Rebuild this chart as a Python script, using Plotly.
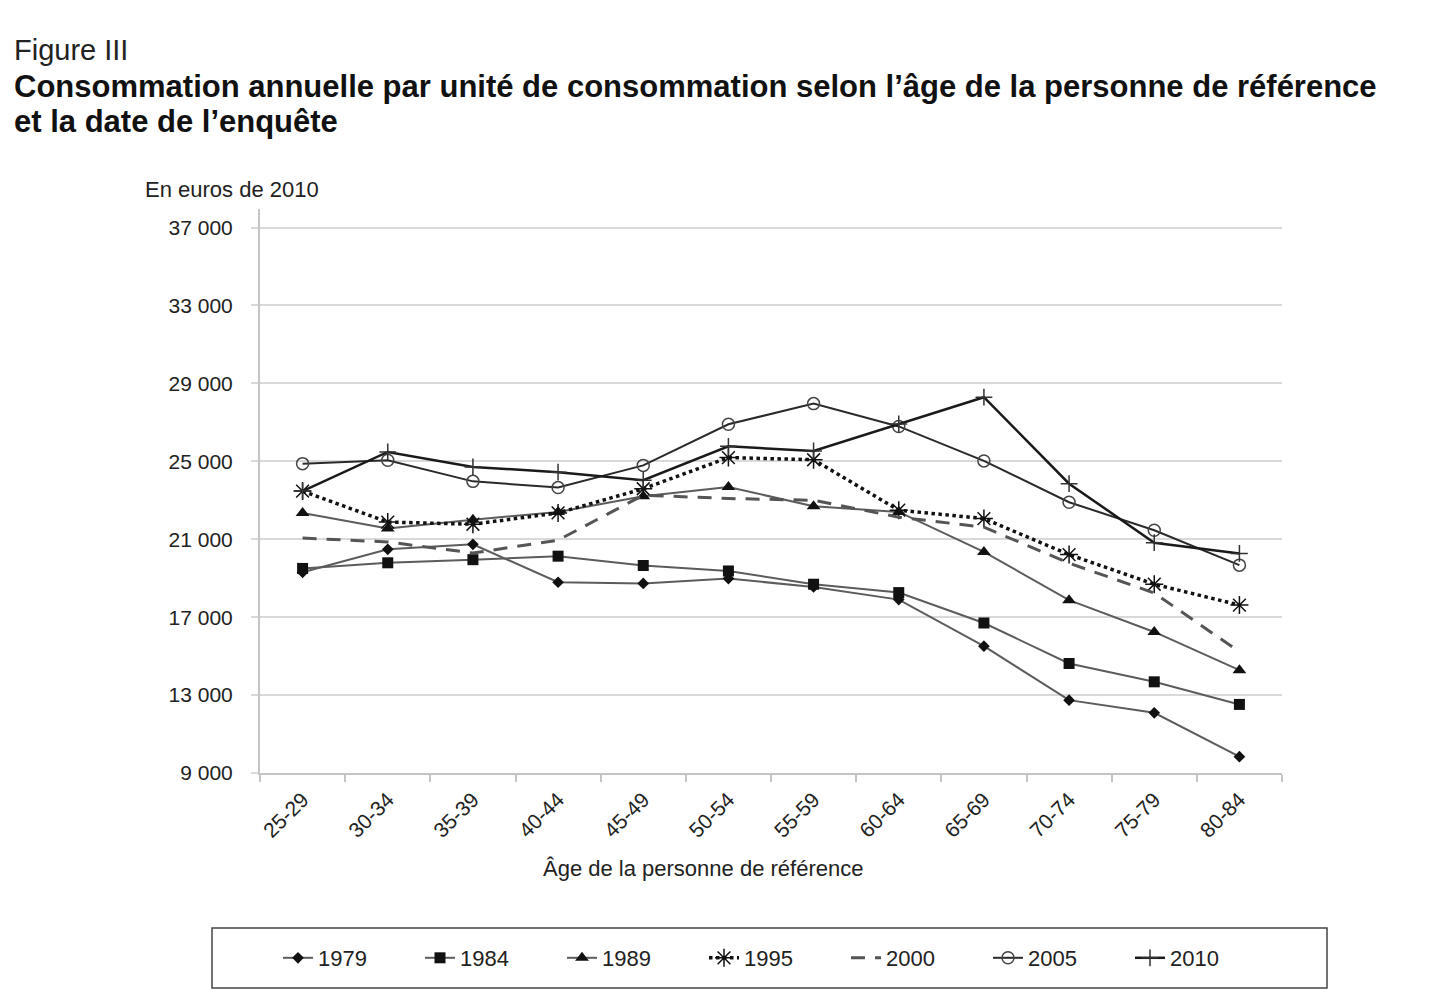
import plotly.graph_objects as go

ages = ["25-29", "30-34", "35-39", "40-44", "45-49", "50-54",
        "55-59", "60-64", "65-69", "70-74", "75-79", "80-84"]

c1979 = [19300, 20480, 20740, 18790, 18730, 18980, 18550, 17900, 15510, 12740, 12090, 9840]
c1984 = [19500, 19790, 19950, 20130, 19650, 19370, 18690, 18260, 16700, 14620, 13680, 12520]
c1989 = [22350, 21550, 22000, 22400, 23200, 23680, 22690, 22400, 20350, 17870, 16240, 14280]
c1995 = [23470, 21880, 21770, 22350, 23590, 25190, 25080, 22490, 22060, 20210, 18690, 17620]
c2000 = [21060, 20860, 20290, 20950, 23260, 23090, 23000, 22130, 21620, 19770, 18240, 15220]
c2005 = [24880, 25050, 23970, 23650, 24790, 26900, 27960, 26790, 25020, 22900, 21460, 19670]
c2010 = [23470, 25480, 24710, 24440, 24030, 25770, 25530, 26920, 28290, 23850, 20820, 20270]

y_ticks = [9000, 13000, 17000, 21000, 25000, 29000, 33000, 37000]
y_labels = ["9 000", "13 000", "17 000", "21 000", "25 000", "29 000", "33 000", "37 000"]

W, H = 1444, 1003
OFF = 8  # page body margin
# plot area in page pixels
L, R, T, B = 260 - OFF, 1282 - OFF, 209 - OFF, 773 - OFF


def px(x, y):
    # page pixel -> paper coords
    return (x - OFF - L) / (R - L), (B - (y - OFF)) / (B - T)


fig = go.Figure()

styles = [
    ("1979", c1979, dict(color="#5c5c5c", width=2), dict(symbol="diamond", size=9, color="#111")),
    ("1984", c1984, dict(color="#5c5c5c", width=2), dict(symbol="square", size=11, color="#111")),
    ("1989", c1989, dict(color="#5c5c5c", width=2), dict(symbol="triangle-up", size=12, color="#111")),
    ("1995", c1995, dict(color="#111", width=3.5, dash="dot"),
     dict(symbol="asterisk-open", size=15, color="#111", line=dict(width=1.5, color="#111"))),
    ("2000", c2000, dict(color="#555", width=3, dash="14px,10px"), None),
    ("2005", c2005, dict(color="#2a2a2a", width=2),
     dict(symbol="circle-open", size=12, color="#444", line=dict(width=1.5, color="#444"))),
    ("2010", c2010, dict(color="#1a1a1a", width=2.5),
     dict(symbol="cross-thin-open", size=12, color="#333", line=dict(width=1.5, color="#333"))),
]

for name, vals, line, marker in styles:
    fig.add_trace(go.Scatter(
        x=ages, y=vals, name=name,
        mode="lines+markers" if marker else "lines",
        line=line, marker=marker,
    ))

font = "Liberation Sans, Arial, sans-serif"

fx, fy = px(12, 50)
t1x, t1y = px(12, 86)
t2x, t2y = px(12, 121)
ex, ey = px(143, 189)
ax_, ay_ = px(703, 868)
bx0, by0 = px(212, 988)
bx1, by1 = px(1327, 928)

fig.update_layout(
    width=W, height=H,
    margin=dict(l=L, r=W - R, t=T, b=H - B),
    paper_bgcolor="white", plot_bgcolor="white",
    font=dict(family=font, size=22, color="#222"),
    showlegend=True,
    legend=dict(
        orientation="h", xref="container", yref="container",
        x=(775 - OFF) / W, xanchor="center", y=1 - (958 - OFF) / H, yanchor="middle",
        borderwidth=0, bgcolor="rgba(0,0,0,0)", font=dict(size=22, color="#222"),
        entrywidth=97,
    ),
    xaxis=dict(
        range=[-0.5, len(ages) - 0.5],
        showgrid=False, showline=True, linecolor="#c4c4c4", linewidth=2,
        ticks="outside", tickson="boundaries", ticklen=7, tickcolor="#c4c4c4", tickwidth=2,
        tickangle=-45, tickfont=dict(size=21, color="#222"), ticklabelstandoff=4,
    ),
    yaxis=dict(
        range=[9000, 37950], tickvals=y_ticks, ticktext=y_labels,
        showgrid=True, gridcolor="#d9d9d9", gridwidth=2,
        showline=True, linecolor="#c4c4c4", linewidth=2,
        ticks="outside", ticklen=7, tickcolor="#d9d9d9", tickwidth=2,
        tickfont=dict(size=21, color="#222"), zeroline=False, ticklabelstandoff=14,
    ),
    shapes=[
        dict(type="rect", xref="paper", yref="paper", x0=bx0, y0=by0, x1=bx1, y1=by1,
             line=dict(color="#444", width=1.5), fillcolor="rgba(0,0,0,0)", layer="above"),
    ],
    annotations=[
        dict(text="Figure III", x=fx, y=fy, xref="paper", yref="paper",
             xanchor="left", yanchor="middle", showarrow=False,
             font=dict(size=29, color="#222")),
        dict(text="<b>Consommation annuelle par unité de consommation selon l’âge de la personne de référence</b>",
             x=t1x, y=t1y, xref="paper", yref="paper", xanchor="left", yanchor="middle",
             showarrow=False, font=dict(size=31, color="#111")),
        dict(text="<b>et la date de l’enquête</b>",
             x=t2x, y=t2y, xref="paper", yref="paper", xanchor="left", yanchor="middle",
             showarrow=False, font=dict(size=31, color="#111")),
        dict(text="En euros de 2010", x=ex, y=ey, xref="paper", yref="paper",
             xanchor="left", yanchor="middle", showarrow=False,
             font=dict(size=22, color="#222")),
        dict(text="Âge de la personne de référence", x=ax_, y=ay_, xref="paper", yref="paper",
             xanchor="center", yanchor="middle", showarrow=False,
             font=dict(size=22, color="#222")),
    ],
)

fig.write_html("out.html")
